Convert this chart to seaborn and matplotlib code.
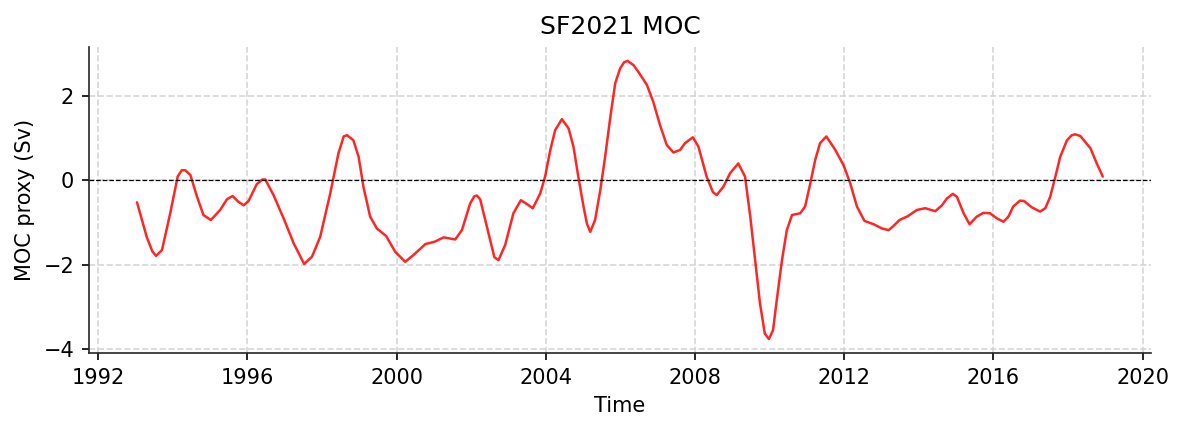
import numpy as np
import pandas as pd
import seaborn as sns
import matplotlib.pyplot as plt

## Data (decimal year, Sv)
years = [1993.04, 1993.30, 1993.45, 1993.55, 1993.71, 1993.93, 1994.13, 1994.24, 1994.33, 1994.47,
         1994.65, 1994.82, 1995.02, 1995.27, 1995.45, 1995.60, 1995.76, 1995.90, 1996.03, 1996.25,
         1996.40, 1996.48, 1996.70, 1996.97, 1997.24, 1997.52, 1997.73, 1997.95, 1998.22, 1998.44,
         1998.58, 1998.67, 1998.84, 1998.98, 1999.11, 1999.29, 1999.47, 1999.72, 1999.96, 2000.23,
         2000.45, 2000.77, 2001.03, 2001.26, 2001.57, 2001.75, 2001.97, 2002.08, 2002.15, 2002.24,
         2002.42, 2002.62, 2002.73, 2002.91, 2003.13, 2003.33, 2003.49, 2003.65, 2003.85, 2003.98,
         2004.12, 2004.25, 2004.43, 2004.61, 2004.74, 2004.87, 2005.01, 2005.10, 2005.19, 2005.32,
         2005.46, 2005.59, 2005.73, 2005.86, 2005.99, 2006.10, 2006.19, 2006.35, 2006.48, 2006.71,
         2006.88, 2007.06, 2007.24, 2007.42, 2007.60, 2007.73, 2007.94, 2008.09, 2008.31, 2008.48,
         2008.58, 2008.76, 2008.94, 2009.16, 2009.34, 2009.48, 2009.61, 2009.74, 2009.87, 2009.98,
         2010.09, 2010.19, 2010.33, 2010.46, 2010.60, 2010.82, 2010.95, 2011.09, 2011.22, 2011.35,
         2011.52, 2011.76, 2011.98, 2012.16, 2012.34, 2012.54, 2012.79, 2013.01, 2013.19, 2013.32,
         2013.48, 2013.70, 2013.95, 2014.17, 2014.44, 2014.62, 2014.75, 2014.91, 2015.02, 2015.20,
         2015.36, 2015.55, 2015.73, 2015.91, 2016.09, 2016.27, 2016.40, 2016.53, 2016.71, 2016.82,
         2017.03, 2017.25, 2017.39, 2017.52, 2017.66, 2017.79, 2017.97, 2018.10, 2018.19, 2018.33,
         2018.60, 2018.77, 2018.93]
moc = [-0.52, -1.34, -1.68, -1.79, -1.65, -0.78, 0.09, 0.24, 0.24, 0.13,
       -0.39, -0.82, -0.94, -0.70, -0.45, -0.37, -0.51, -0.59, -0.49, -0.09,
       0.02, 0.02, -0.35, -0.90, -1.49, -1.98, -1.81, -1.34, -0.31, 0.64,
       1.04, 1.07, 0.95, 0.56, -0.15, -0.86, -1.14, -1.32, -1.69, -1.93,
       -1.77, -1.51, -1.45, -1.35, -1.40, -1.18, -0.55, -0.38, -0.36, -0.45,
       -1.10, -1.82, -1.89, -1.53, -0.78, -0.47, -0.56, -0.66, -0.31, 0.09,
       0.72, 1.19, 1.45, 1.23, 0.80, 0.09, -0.62, -1.02, -1.22, -0.94,
       -0.23, 0.56, 1.51, 2.30, 2.65, 2.80, 2.83, 2.73, 2.57, 2.26,
       1.86, 1.31, 0.84, 0.66, 0.72, 0.88, 1.02, 0.80, 0.09, -0.28,
       -0.35, -0.15, 0.17, 0.40, 0.09, -0.86, -1.89, -2.91, -3.63, -3.76,
       -3.55, -2.84, -1.89, -1.18, -0.82, -0.78, -0.62, -0.07, 0.48, 0.88,
       1.04, 0.72, 0.36, -0.07, -0.62, -0.96, -1.04, -1.14, -1.18, -1.08,
       -0.94, -0.85, -0.70, -0.66, -0.73, -0.59, -0.43, -0.32, -0.39, -0.78,
       -1.04, -0.86, -0.77, -0.78, -0.90, -0.98, -0.86, -0.62, -0.48, -0.49,
       -0.64, -0.74, -0.66, -0.39, 0.09, 0.56, 0.95, 1.07, 1.09, 1.05,
       0.76, 0.40, 0.09]
year_ticks = [1992, 1996, 2000, 2004, 2008, 2012, 2016, 2020]

df = pd.DataFrame({'Time': years, 'MOC': moc})

sns.set_style('ticks', {'text.color': 'black', 'axes.labelcolor': 'black',
                        'xtick.color': 'black', 'ytick.color': 'black'})
fig, ax = plt.subplots(figsize=(1183 / 150, 431 / 150), dpi=150)
fig.subplots_adjust(left=0.075, right=0.973, top=0.891, bottom=0.181)

sns.lineplot(x='Time', y='MOC', data=df, color='red', alpha=0.85, linewidth=1.2, ax=ax)
ax.axhline(0, color='black', linestyle='--', linewidth=0.6)
ax.grid(True, linestyle='--', color='lightgray', alpha=0.9)

ax.set_xticks(year_ticks)
ax.set_xticklabels([str(y) for y in year_ticks])
ax.set_yticks([-4, -2, 0, 2])
ax.set_xlabel('Time')
ax.set_ylabel('MOC proxy (Sv)')
ax.set_title('SF2021 MOC', fontsize=12)
sns.despine()

plt.savefig('out.png', dpi=150)
